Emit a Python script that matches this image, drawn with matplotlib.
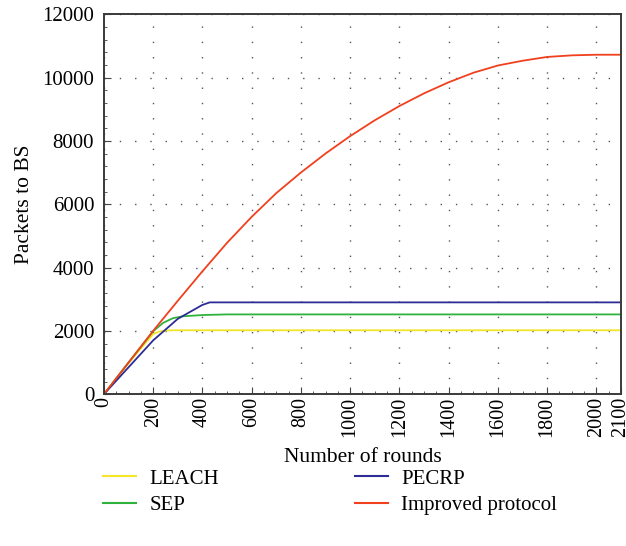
import matplotlib
matplotlib.use("Agg")
import matplotlib.pyplot as plt
from matplotlib.ticker import MultipleLocator
from matplotlib.lines import Line2D

plt.rcParams['font.family'] = ['Liberation Serif', 'DejaVu Serif']

rounds_leach = [0, 100, 200, 230, 260, 300, 2100]
leach = [0, 980, 1900, 1990, 2015, 2020, 2020]

rounds_sep = [0, 100, 200, 240, 280, 320, 400, 500, 2100]
sep = [0, 1000, 1990, 2250, 2400, 2460, 2500, 2520, 2520]

rounds_pecrp = [0, 100, 200, 300, 400, 430, 2100]
pecrp = [0, 850, 1700, 2380, 2820, 2900, 2900]

rounds_imp = [0, 100, 200, 300, 400, 500, 600, 700, 800, 900, 1000, 1100, 1200, 1300,
              1400, 1500, 1600, 1700, 1800, 1900, 2000, 2100]
improved = [0, 1000, 2000, 2950, 3880, 4780, 5600, 6350, 7000, 7600, 8150, 8650, 9100,
            9500, 9850, 10150, 10380, 10530, 10650, 10700, 10720, 10720]

xticks = [0, 200, 400, 600, 800, 1000, 1200, 1400, 1600, 1800, 2000, 2100]
yticks = [0, 2000, 4000, 6000, 8000, 10000, 12000]

fig = plt.figure(figsize=(6.26, 5.46), dpi=100)
ax = fig.add_axes([0.166, 0.278, 0.826, 0.696])

c_leach = '#f2e627'
c_sep = '#2fb33c'
c_pecrp = '#2e2c96'
c_imp = '#f0401e'

ax.plot(rounds_leach, leach, color=c_leach, lw=1.3)
ax.plot(rounds_sep, sep, color=c_sep, lw=1.3)
ax.plot(rounds_pecrp, pecrp, color=c_pecrp, lw=1.3)
ax.plot(rounds_imp, improved, color=c_imp, lw=1.3)

ax.set_xlim(0, 2100)
ax.set_ylim(0, 12000)
ax.set_xticks(xticks)
ax.set_xticklabels([str(t) for t in xticks], rotation=90, fontsize=14.5)
ax.set_yticks(yticks)
ax.set_yticklabels([str(t) for t in yticks], fontsize=15)
ax.yaxis.set_minor_locator(MultipleLocator(400))
ax.xaxis.set_minor_locator(MultipleLocator(50))
ax.tick_params(which='both', direction='in', top=False, right=False, color='#444444')
ax.tick_params(axis='y', which='major', length=5, pad=7)
ax.tick_params(axis='x', which='major', length=5, pad=2)
ax.tick_params(which='minor', length=2.5)
for s in ax.spines.values():
    s.set_color('#3a3a3a')
    s.set_linewidth(1.4)

ax.grid(True, which='major', color='#555555', linestyle=(0, (1, 10)), linewidth=1.0)

ax.set_xlabel('Number of rounds', fontsize=15.5, labelpad=8)
ax.set_ylabel('Packets to BS', fontsize=15.5, labelpad=6)

h1 = [Line2D([], [], color=c_leach, lw=1.5), Line2D([], [], color=c_sep, lw=1.5)]
h2 = [Line2D([], [], color=c_pecrp, lw=1.5), Line2D([], [], color=c_imp, lw=1.5)]
common = dict(loc='upper left', frameon=False, fontsize=15, handlelength=1.6,
              handletextpad=0.62, labelspacing=0.35, borderpad=0, borderaxespad=0)
leg1 = fig.legend(h1, ['LEACH', 'SEP'], bbox_to_anchor=(0.1645, 0.141), **common)
leg2 = fig.legend(h2, ['PECRP', 'Improved protocol'], bbox_to_anchor=(0.567, 0.141), **common)

fig.savefig('out.png', dpi=100)
